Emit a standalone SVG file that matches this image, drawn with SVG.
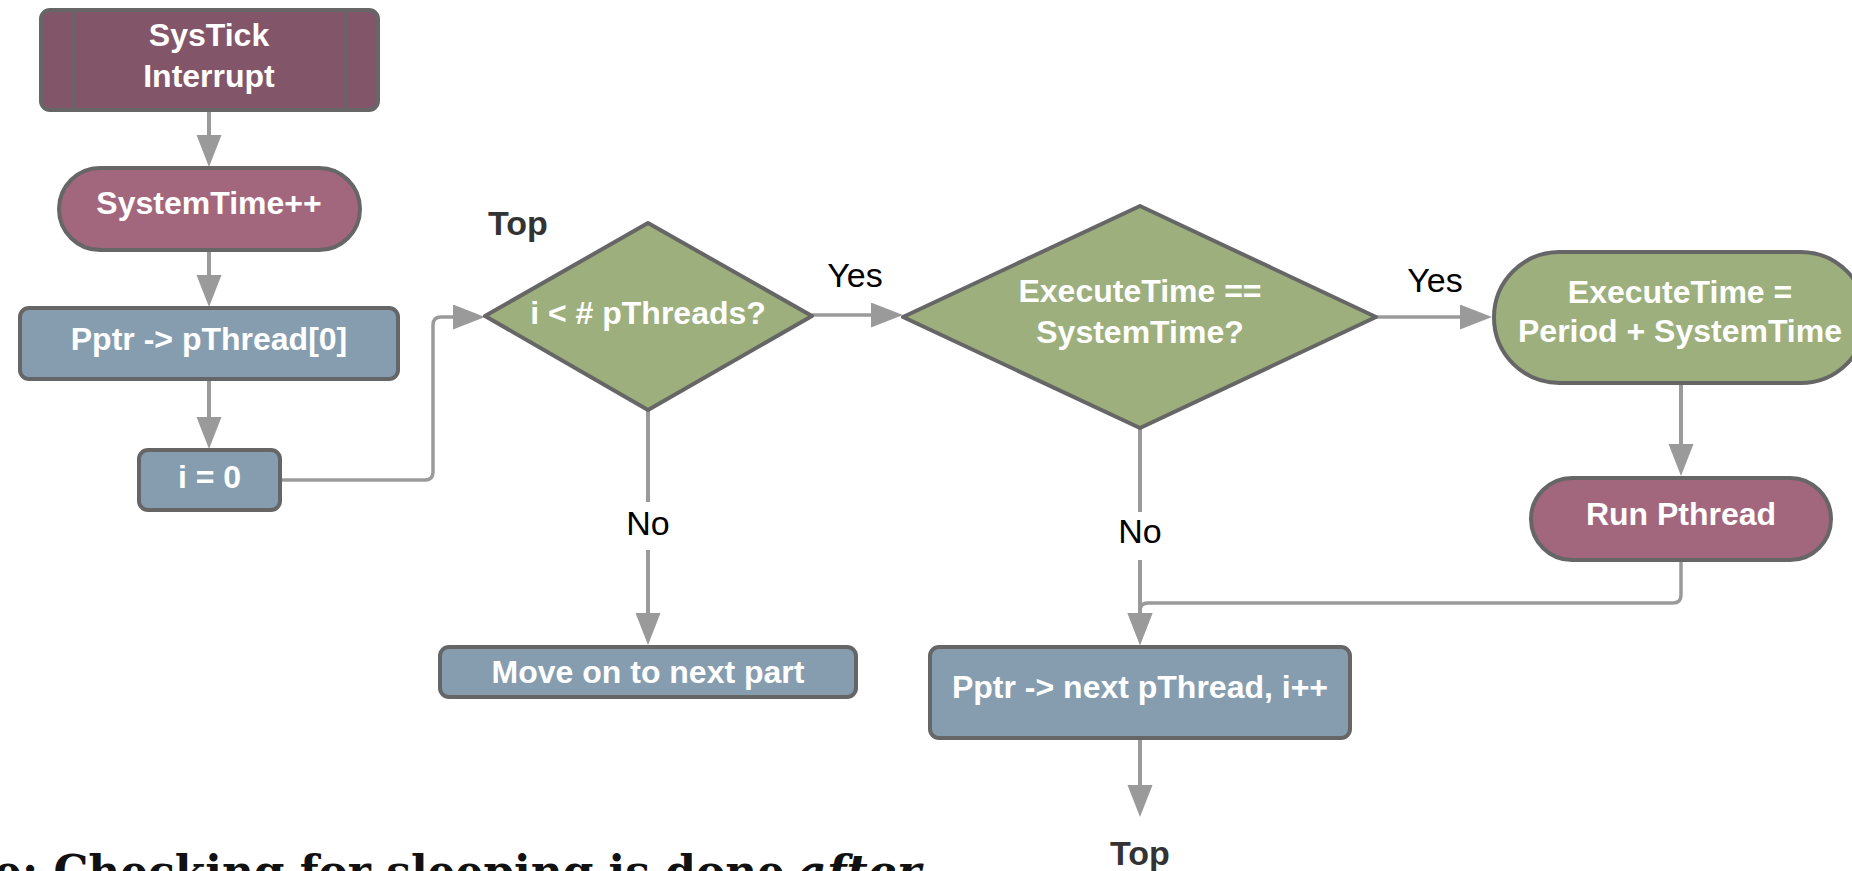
<svg xmlns="http://www.w3.org/2000/svg" width="1852" height="871" viewBox="0 0 1852 871">
  <style>
    .node { stroke: #666666; stroke-width: 4; stroke-linejoin: round; }
    .maroon { fill: #835568; }
    .rose { fill: #a3677d; }
    .slate { fill: #869daf; }
    .olive { fill: #9daf7d; }
    .ntext { font-family: "Liberation Sans", Arial, sans-serif; font-weight: bold; font-size: 32px; fill: #ffffff; text-anchor: middle; }
    .edge { fill: none; stroke: #9a9a9a; stroke-width: 4; stroke-linejoin: round; }
    .elabel { font-family: "Liberation Sans", Arial, sans-serif; font-size: 34px; fill: #000000; text-anchor: middle; }
    .jump { font-family: "Liberation Sans", Arial, sans-serif; font-weight: bold; font-size: 34px; fill: #333333; text-anchor: middle; }
    .note { font-family: "DejaVu Serif", "Liberation Serif", serif; font-weight: bold; font-size: 44px; fill: #111111; }
  </style>
  <defs>
    <marker id="arrow" markerUnits="userSpaceOnUse" markerWidth="34" markerHeight="26" refX="2" refY="12.5" orient="auto">
      <path d="M0,0 L32,12.5 L0,25 Z" fill="#9a9a9a"/>
    </marker>
  </defs>

  <rect width="1852" height="871" fill="#ffffff"/>

  <!-- connectors -->
  <g id="connectors">
    <path class="edge" d="M209,112 V137" marker-end="url(#arrow)"/>
    <path class="edge" d="M209,252 V277" marker-end="url(#arrow)"/>
    <path class="edge" d="M209,381 V419" marker-end="url(#arrow)"/>
    <path class="edge" style="stroke-width:3.5" d="M282,480 H425 Q433,480 433,472 V325 Q433,317 441,317 H455" marker-end="url(#arrow)"/>
    <path class="edge" style="stroke-width:3.5" d="M812,315 H873" marker-end="url(#arrow)"/>
    <path class="edge" style="stroke-width:3.5" d="M1376,317 H1462" marker-end="url(#arrow)"/>
    <path class="edge" d="M648,410 V502"/>
    <path class="edge" d="M648,550 V615" marker-end="url(#arrow)"/>
    <path class="edge" d="M1140,428 V512"/>
    <path class="edge" d="M1140,560 V615" marker-end="url(#arrow)"/>
    <path class="edge" d="M1681,385 V446" marker-end="url(#arrow)"/>
    <path class="edge" style="stroke-width:3.5" d="M1681,562 V595 Q1681,603 1673,603 H1148 Q1140,603 1140,611 V615" marker-end="url(#arrow)"/>
    <path class="edge" d="M1140,740 V787" marker-end="url(#arrow)"/>

    <text class="elabel" x="855" y="287">Yes</text>
    <text class="elabel" x="1435" y="292">Yes</text>
    <text class="elabel" x="648" y="535">No</text>
    <text class="elabel" x="1140" y="543">No</text>
  </g>

  <!-- nodes -->
  <g id="systick">
    <rect class="node maroon" x="41" y="10" width="337" height="100" rx="9"/>
    <line x1="74" y1="10" x2="74" y2="110" stroke="#666666" stroke-width="3"/>
    <line x1="346" y1="10" x2="346" y2="110" stroke="#666666" stroke-width="3"/>
    <text class="ntext" x="209" y="46">SysTick</text>
    <text class="ntext" x="209" y="87">Interrupt</text>
  </g>

  <g id="systemtime">
    <rect class="node rose" x="59" y="168" width="301" height="82" rx="41"/>
    <text class="ntext" x="209" y="214">SystemTime++</text>
  </g>

  <g id="pptr-first">
    <rect class="node slate" x="20" y="308" width="378" height="71" rx="9"/>
    <text class="ntext" x="209" y="350">Pptr -&gt; pThread[0]</text>
  </g>

  <g id="i-zero">
    <rect class="node slate" x="139" y="450" width="141" height="60" rx="9"/>
    <text class="ntext" x="209.5" y="488">i = 0</text>
  </g>

  <g id="top-label">
    <text class="jump" x="518" y="235">Top</text>
  </g>

  <g id="count-check">
    <polygon class="node olive" points="485,316 648,223 812,316 648,410"/>
    <text class="ntext" x="648" y="324">i &lt; # pThreads?</text>
  </g>

  <g id="time-check">
    <polygon class="node olive" points="903,317 1140,206 1376,317 1140,428"/>
    <text class="ntext" x="1140" y="302">ExecuteTime ==</text>
    <text class="ntext" x="1140" y="343">SystemTime?</text>
  </g>

  <g id="reschedule">
    <rect class="node olive" x="1494" y="252" width="372" height="131" rx="65.5"/>
    <text class="ntext" x="1680" y="303">ExecuteTime =</text>
    <text class="ntext" x="1680" y="342">Period + SystemTime</text>
  </g>

  <g id="run-pthread">
    <rect class="node rose" x="1531" y="478" width="300" height="82" rx="41"/>
    <text class="ntext" x="1681" y="525">Run Pthread</text>
  </g>

  <g id="move-on">
    <rect class="node slate" x="440" y="647" width="416" height="50" rx="9"/>
    <text class="ntext" x="648" y="683">Move on to next part</text>
  </g>

  <g id="pptr-next">
    <rect class="node slate" x="930" y="647" width="420" height="91" rx="9"/>
    <text class="ntext" x="1140" y="698">Pptr -&gt; next pThread, i++</text>
  </g>

  <g id="top-return">
    <text class="jump" x="1140" y="865">Top</text>
  </g>

  <!-- note line running off the lower edge -->
  <text class="note" x="-6" y="887" textLength="791" lengthAdjust="spacingAndGlyphs">e: Checking for sleeping is done</text>
  <text class="note" x="797" y="887" font-style="italic" textLength="124" lengthAdjust="spacingAndGlyphs">after</text>
</svg>
